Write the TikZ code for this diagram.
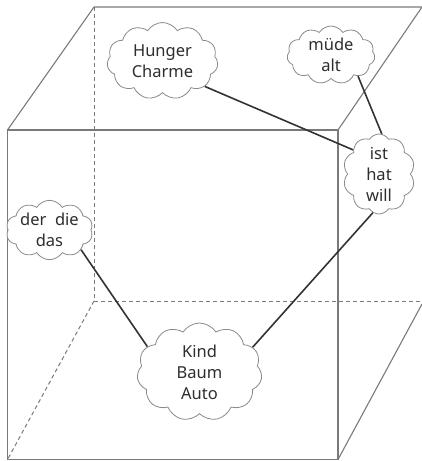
\documentclass[tikz,border=0pt]{standalone}
\usepackage{fontspec}
\setmainfont{Noto Sans}
\usetikzlibrary{shapes.symbols}
\definecolor{edgegray}{HTML}{7A7A7A}
\definecolor{cloudgray}{HTML}{8A8A8A}
\definecolor{linkdark}{HTML}{333333}
\definecolor{textdark}{HTML}{2E2E2E}
\tikzset{
  cubeline/.style={draw=edgegray, line width=1.1pt},
  hiddenline/.style={draw=edgegray, line width=1pt, dash pattern=on 4pt off 3pt},
  wordcloud/.style={shape=cloud, draw=cloudgray, line width=0.8pt, fill=white,
    cloud puffs=11, cloud puff arc=115, cloud ignores aspect, inner sep=0pt,
    align=center, text=textdark, font=\fontsize{16.5}{21}\selectfont},
  link/.style={draw=linkdark, line width=1.6pt}
}
\begin{document}
\begin{tikzpicture}[x=1pt,y=-1pt]
\useasboundingbox (0,0) rectangle (422,461);
% cube corners
\coordinate (fa) at (7.5,130);
\coordinate (fb) at (338,130);
\coordinate (fc) at (338,459.5);
\coordinate (fd) at (7.5,459.5);
\coordinate (ba) at (94,7);
\coordinate (bb) at (422,7);
\coordinate (bd) at (94,301);
\coordinate (bc) at (422,301);
\coordinate (bcr) at (422,304);
% hidden edges
\draw[hiddenline] (ba) -- (bd);
\draw[hiddenline] (bd) -- (bc);
\draw[hiddenline] (bd) -- (fd);
% visible edges
\draw[cubeline] (fa) -- (fb) -- (fc) -- (fd) -- cycle;
\draw[cubeline] (fa) -- (ba) -- (bb);
\draw[cubeline] (fb) -- (bb);
\draw[cubeline] (fc) -- (bcr);
% clouds
\node[wordcloud, minimum width=111pt, minimum height=77pt] (hunger) at (162.5,61) {Hunger\\Charme};
\node[wordcloud, minimum width=88pt, minimum height=58pt] (muede) at (331,55) {müde\\alt};
\node[wordcloud, minimum width=72pt, minimum height=80pt, cloud puffs=10] (ist) at (379,174) {ist\\hat\\will};
\node[wordcloud, minimum width=81pt, minimum height=56pt, cloud puffs=10] (der) at (49.5,230) {der\ \ die\\das};
\node[wordcloud, minimum width=125pt, minimum height=98pt] (kind) at (199.5,372) {Kind\\Baum\\Auto};
% connectors
\draw[link] (hunger.-31) -- (ist.137);
\draw[link] (muede.-38) -- (ist.86);
\draw[link] (ist.-99) -- (kind.25);
\draw[link] (der.-32) -- (kind.154);
\end{tikzpicture}
\end{document}
